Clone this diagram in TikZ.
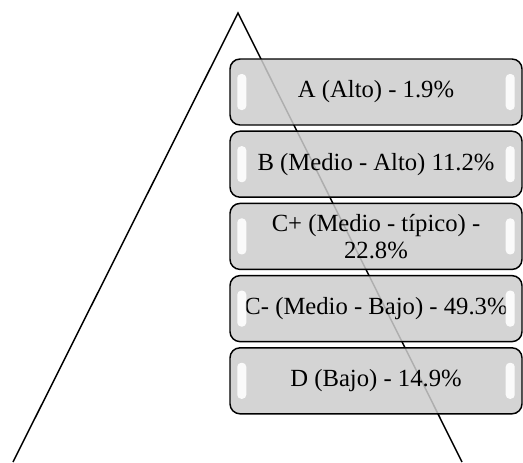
\documentclass[tikz,border=0pt]{standalone}
\usepackage{fontspec}
\setmainfont{Liberation Serif}
\usetikzlibrary{calc}
\definecolor{tiergray}{RGB}{205, 205, 205}

\begin{document}
\begin{tikzpicture}[x=0.75pt, y=0.75pt,
  tier/.style={draw=black, line width=1.1pt, rounded corners=7.5pt, fill=tiergray,
    fill opacity=0.85, text opacity=1, minimum width=219pt, minimum height=49.5pt,
    align=center, font=\fontsize{18.5}{20}\selectfont, inner sep=0pt},
  gloss/.style={fill=white, rounded corners=3pt, fill opacity=0.9, draw=none}]
  \useasboundingbox (0,0) rectangle (523,462);

  % Pyramid outline
  \coordinate (apex) at (238,449);
  \coordinate (baseL) at (13,0);
  \coordinate (baseR) at (462,0);
  \draw[line width=1.1pt] (baseL) -- (apex) -- (baseR);

  % Levels
  \node[tier] (tierA) at (376,370) {A (Alto) - 1.9\%};
  \node[tier] (tierB) at (376,297.8) {B (Medio - Alto) 11.2\%};
  \node[tier] (tierCp) at (376,225.6) {C+ (Medio - típico) -\\22.8\%};
  \node[tier] (tierCm) at (376,153.4) {C- (Medio - Bajo) - 49.3\%};
  \node[tier] (tierD) at (376,81.2) {D (Bajo) - 14.9\%};

  % Gloss highlights on the box ends
  \foreach \t in {tierA, tierB, tierCp, tierCm, tierD} {
    \fill[gloss] ($(\t.west)+(8,-18)$) rectangle ($(\t.west)+(17,18)$);
    \fill[gloss] ($(\t.east)+(-17,-18)$) rectangle ($(\t.east)+(-8,18)$);
  }
\end{tikzpicture}
\end{document}
